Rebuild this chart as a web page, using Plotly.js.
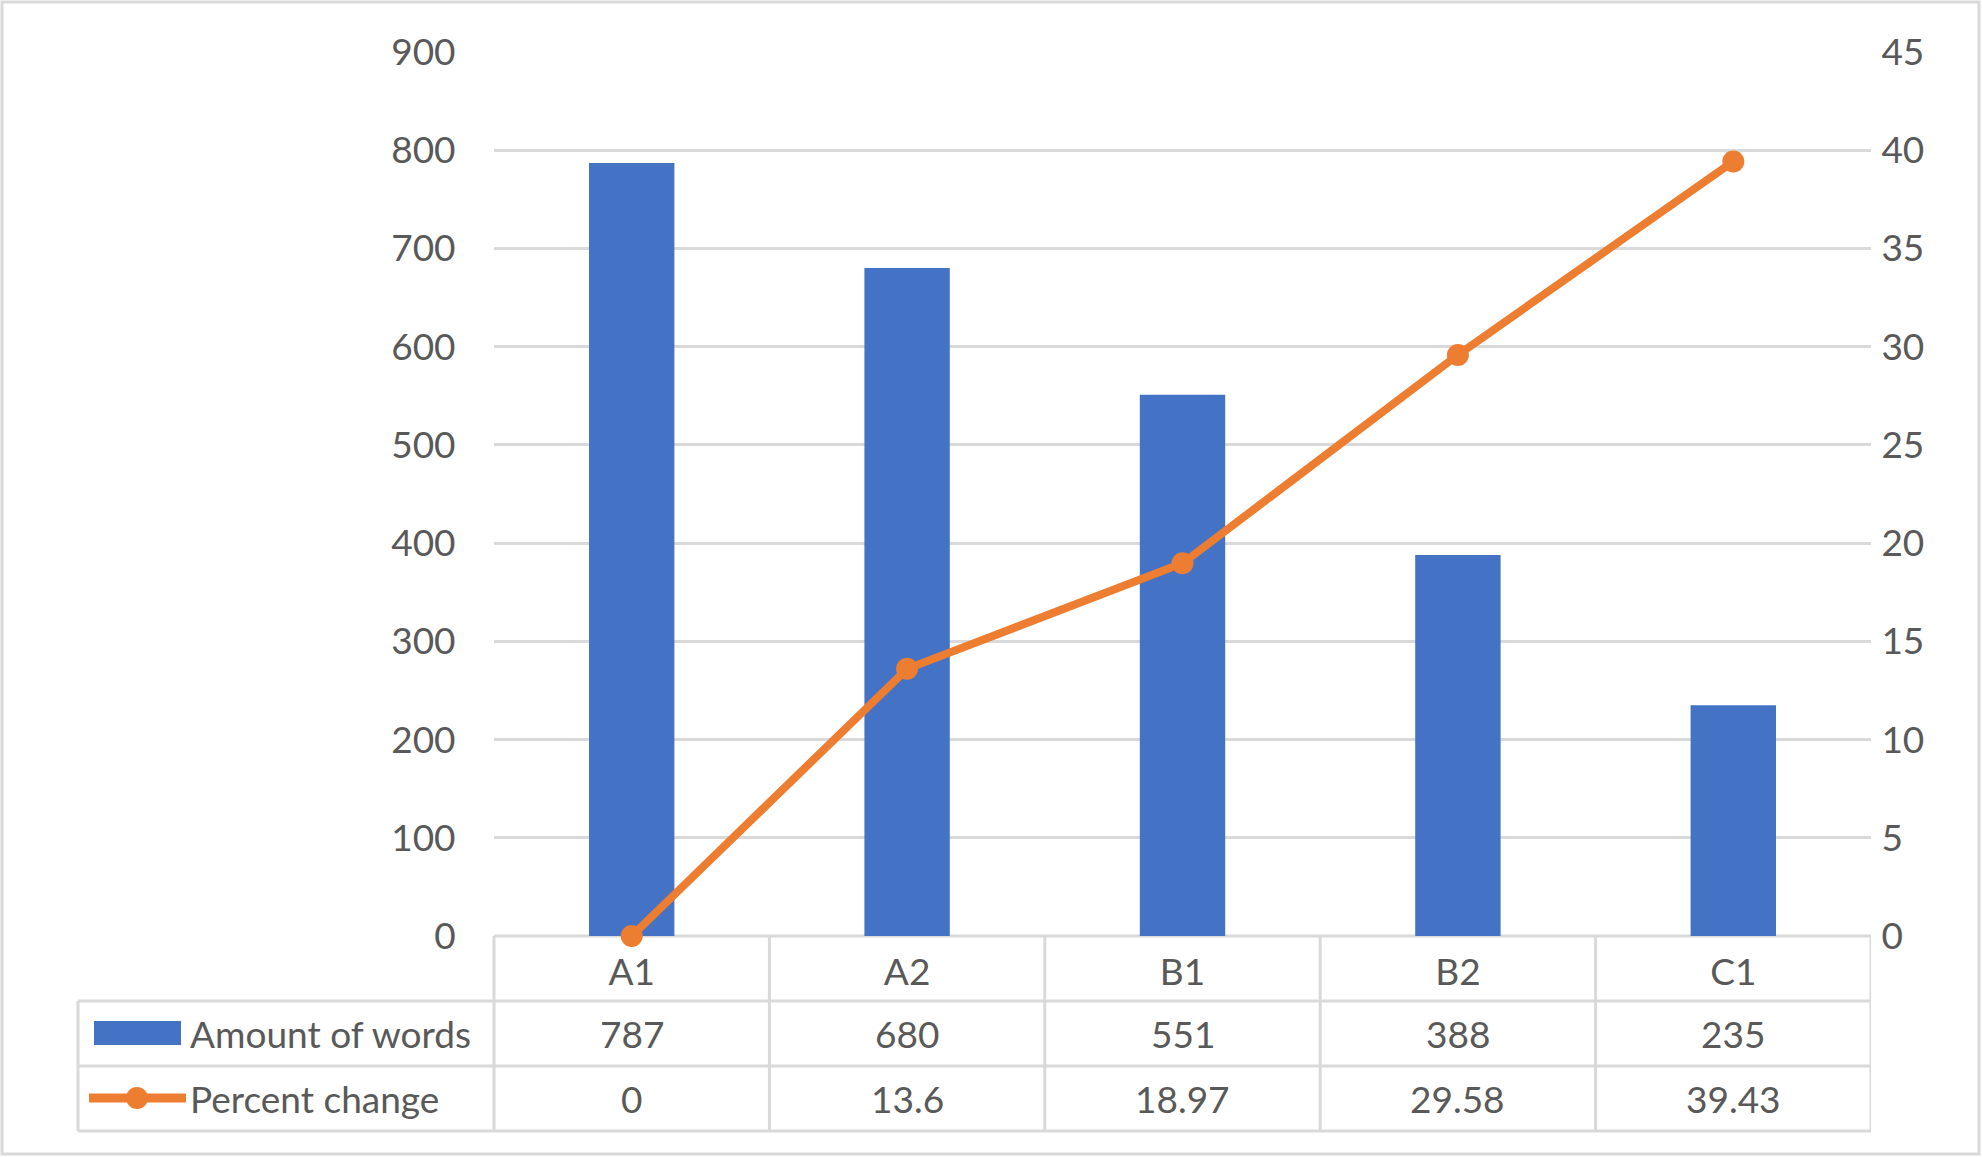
<!DOCTYPE html>
<html>
<head>
<meta charset="utf-8">
<script src="https://cdn.plot.ly/plotly-3.0.1.min.js"></script>
<style>
  html, body { margin: 0; padding: 0; background: #fff; }
  #chart { width: 1982px; height: 1157px; }
</style>
</head>
<body>
<div id="chart"></div>
<script>
// chart data
const levels = ['A1', 'A2', 'B1', 'B2', 'C1'];
const amountOfWords = [787, 680, 551, 388, 235];
const percentChange = [0, 13.6, 18.97, 29.58, 39.43];
const seriesNames = ['Amount of words', 'Percent change'];

// plot area in pixels (Excel-like layout with data table underneath)
const W = 1982, H = 1157;
const L = 494, R = 1871, T = 52, B = 936;
const px = (X) => (X - L) / (R - L);
const py = (Y) => (B - Y) / (B - T);

const BLUE = '#4472C4', ORANGE = '#ED7D31', GRID = '#d9d9d9', TXT = '#595959';
const FONT = 'Lato, "Open Sans", sans-serif';
const FS = 37;

const rowY = [936, 1001, 1066, 1131];

const traces = [
    {
        type: 'bar',
        name: seriesNames[0],
        x: levels,
        y: amountOfWords,
        width: 0.31,
        marker: { color: BLUE },
        hoverinfo: 'x+y'
    },
    {
        type: 'scatter',
        mode: 'lines+markers',
        name: seriesNames[1],
        x: levels,
        y: percentChange,
        yaxis: 'y2',
        line: { color: ORANGE, width: 8 },
        marker: { color: ORANGE, size: 22 },
        cliponaxis: false
    }
];

const shapes = [];
const line = (x0, y0, x1, y1, xref) => ({
    type: 'line', layer: 'below',
    xref: xref || 'paper', yref: 'paper',
    x0: x0, y0: y0, x1: x1, y1: y1,
    line: { color: GRID, width: 3 }
});

// table grid
shapes.push(line(px(L), py(rowY[0]), px(R), py(rowY[0])));
for (let r = 1; r < rowY.length; r++) {
    shapes.push(line(px(78), py(rowY[r]), px(R), py(rowY[r])));
}
shapes.push(line(px(L), py(rowY[0]), px(L), py(rowY[3])));
shapes.push(line(px(78), py(rowY[1]), px(78), py(rowY[3])));
levels.forEach((c, i) => {
    shapes.push(line(i + 0.5, py(rowY[0]), i + 0.5, py(rowY[3]), 'x'));
});

// legend keys inside the table
shapes.push({
    type: 'rect', xref: 'paper', yref: 'paper',
    x0: px(94), x1: px(181), y0: py(1021), y1: py(1045),
    fillcolor: BLUE, line: { width: 0 }
});
shapes.push({
    type: 'line', xref: 'paper', yref: 'paper',
    x0: px(89), x1: px(186), y0: py(1098), y1: py(1098),
    line: { color: ORANGE, width: 9 }
});
shapes.push({
    type: 'circle', xref: 'paper', yref: 'paper',
    x0: px(126), x1: px(148), y0: py(1087), y1: py(1109),
    fillcolor: ORANGE, line: { width: 0 }
});

// outer chart border
shapes.push({
    type: 'rect', xref: 'paper', yref: 'paper', layer: 'below',
    x0: px(2), x1: px(1979), y0: py(2), y1: py(1154),
    line: { color: GRID, width: 3 }
});

const annotations = [];
const cell = (x, xref, y, text, anchor) => ({
    x: x, xref: xref, y: y, yref: 'paper',
    text: text, showarrow: false,
    xanchor: anchor || 'center', yanchor: 'middle',
    font: { family: FONT, size: FS, color: TXT }
});
annotations.push(cell(px(188), 'paper', py(1033), seriesNames[0], 'left'));
annotations.push(cell(px(188), 'paper', py(1098), seriesNames[1], 'left'));
levels.forEach((c, i) => {
    annotations.push(cell(c, 'x', py(1033), String(amountOfWords[i])));
    annotations.push(cell(c, 'x', py(1098), String(percentChange[i])));
});

const layout = {
    width: W, height: H,
    margin: { l: L, r: W - R, t: T, b: H - B, pad: 0 },
    paper_bgcolor: '#fff', plot_bgcolor: '#fff',
    showlegend: false,
    font: { family: FONT, size: FS, color: TXT },
    xaxis: {
        type: 'category',
        range: [-0.5, 4.5],
        showgrid: false, zeroline: false, showline: false,
        ticks: 'outside', ticklen: 4, tickcolor: 'rgba(0,0,0,0)',
        tickfont: { family: FONT, size: FS, color: TXT }
    },
    yaxis: {
        range: [0, 900], dtick: 100,
        showgrid: true, gridcolor: GRID, gridwidth: 3,
        zeroline: false, showline: false,
        ticks: 'outside', ticklen: 30, tickcolor: 'rgba(0,0,0,0)',
        tickfont: { family: FONT, size: FS, color: TXT }
    },
    yaxis2: {
        overlaying: 'y', side: 'right',
        range: [0, 45], dtick: 5,
        showgrid: false, zeroline: false, showline: false,
        ticks: 'outside', ticklen: 2, tickcolor: 'rgba(0,0,0,0)',
        tickfont: { family: FONT, size: FS, color: TXT }
    },
    shapes: shapes,
    annotations: annotations
};

Plotly.newPlot('chart', traces, layout, { displayModeBar: false, staticPlot: true });
</script>
</body>
</html>
